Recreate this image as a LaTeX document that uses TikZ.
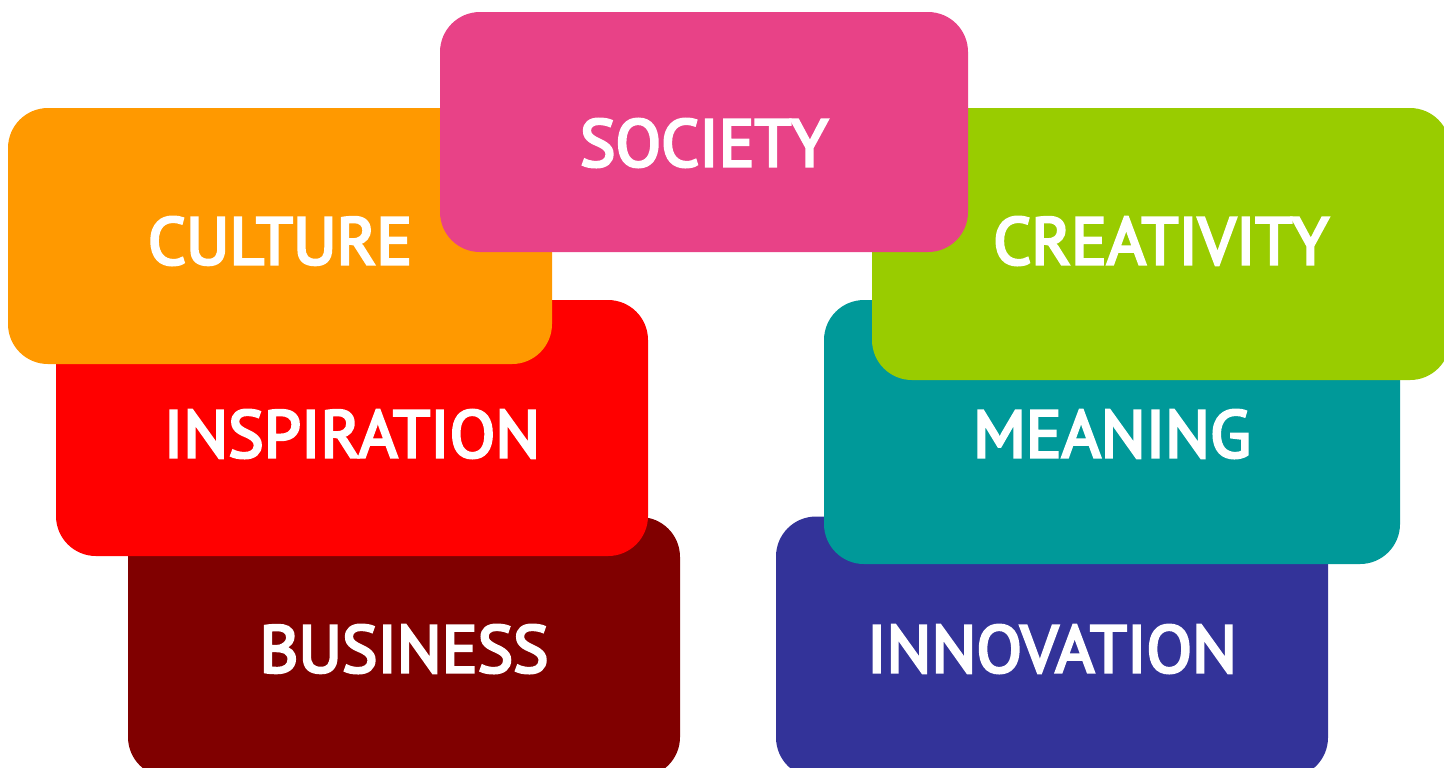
\documentclass[tikz,border=0pt]{standalone}
\usepackage{fontspec}
\usepackage{tikz}
\newfontfamily\cardfont[FakeBold=4]{PT Sans}

\definecolor{societypink}{HTML}{E84287}
\definecolor{cultureorange}{HTML}{FF9900}
\definecolor{inspred}{HTML}{FF0000}
\definecolor{businessred}{HTML}{800000}
\definecolor{creagreen}{HTML}{99CC00}
\definecolor{meaningteal}{HTML}{009999}
\definecolor{innoblue}{HTML}{333399}

\tikzset{
  card/.style={rectangle, rounded corners=0.4cm, inner sep=0pt, fill=#1},
  word/.style={text=white, inner sep=0pt, font=\cardfont\fontsize{19}{19}\selectfont}
}

\begin{document}
\begin{tikzpicture}

\useasboundingbox (0,0) rectangle (14.44,-7.67);
\clip (0,0) rectangle (14.44,-7.67);

% left stack
\node[card=businessred, minimum width=5.52cm, minimum height=2.60cm] (business) at (4.04,-6.47) {};
\node[word] (businessT) at ([yshift=-0.02cm]business.center) {BUSINESS};

\node[card=inspred, minimum width=5.92cm, minimum height=2.56cm] (inspiration) at (3.52,-4.28) {};
\node[word] (inspirationT) at ([yshift=-0.06cm]inspiration.center) {INSPIRATION};

\node[card=cultureorange, minimum width=5.44cm, minimum height=2.56cm] (culture) at (2.80,-2.36) {};
\node[word] (cultureT) at ([yshift=-0.05cm]culture.center) {CULTURE};

% right stack
\node[card=innoblue, minimum width=5.52cm, minimum height=2.61cm] (innovation) at (10.52,-6.47) {};
\node[word] (innovationT) at ([yshift=-0.02cm]innovation.center) {INNOVATION};

\node[card=meaningteal, minimum width=5.76cm, minimum height=2.64cm] (meaning) at (11.12,-4.32) {};
\node[word] (meaningT) at ([yshift=-0.02cm]meaning.center) {MEANING};

\node[card=creagreen, minimum width=5.78cm, minimum height=2.72cm] (creativity) at (11.61,-2.44) {};
\node[word] (creativityT) at ([yshift=0.03cm]creativity.center) {CREATIVITY};

% top
\node[card=societypink, minimum width=5.28cm, minimum height=2.40cm] (society) at (7.04,-1.32) {};
\node[word] (societyT) at ([yshift=-0.11cm]society.center) {SOCIETY};

\end{tikzpicture}
\end{document}
